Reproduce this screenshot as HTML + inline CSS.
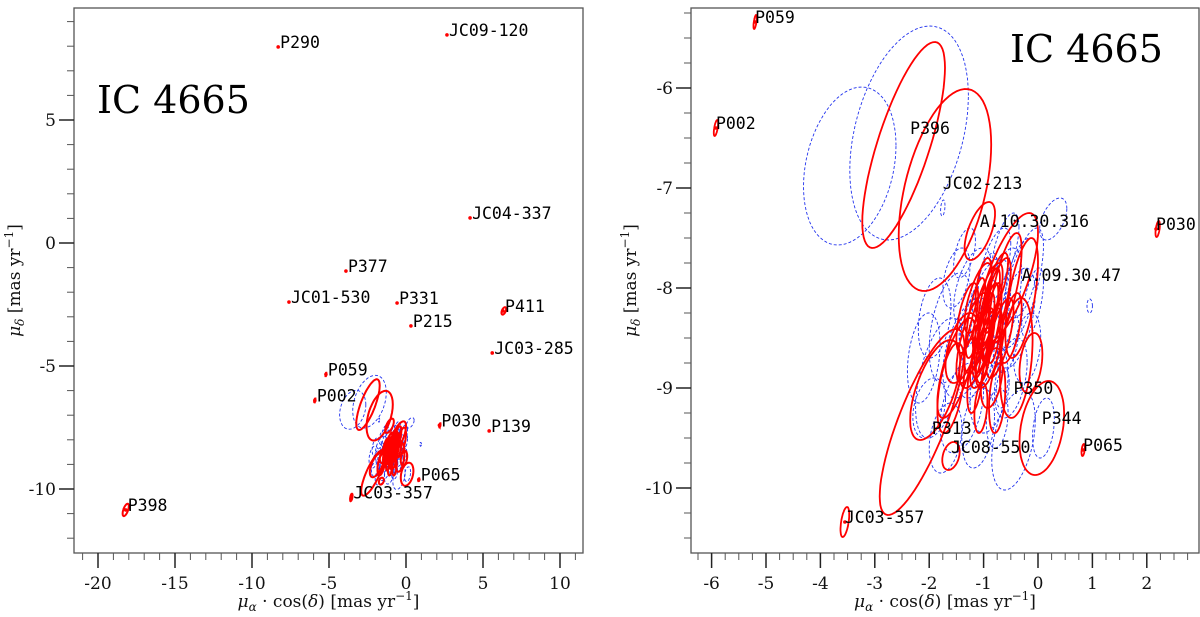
<!DOCTYPE html>
<html><head><meta charset="utf-8"><style>
body{margin:0;background:#fff;}
svg{display:block;}
.tick{font-family:"DejaVu Serif","Liberation Serif",serif;font-size:17px;fill:#111;}
.lab{font-family:"DejaVu Sans Mono","Liberation Mono",monospace;font-size:16.5px;fill:#000;}
.title{font-family:"DejaVu Serif","Liberation Serif",serif;font-size:38px;fill:#000;}
.axl{font-family:"DejaVu Serif","Liberation Serif",serif;font-size:17px;fill:#111;}
</style></head><body>
<svg id="fig" width="1200" height="617" viewBox="0 0 1200 617" xmlns="http://www.w3.org/2000/svg"></svg>
<script>
// ---- data (mas/yr) ----
const labelNames = ["P290","JC09-120","JC04-337","P377","JC01-530","P331","P215","P411","JC03-285","P059","P002","P030","P139","P065","JC03-357","P398"];
const labelPmra  = [-8.3, 2.66, 4.16, -3.9, -7.6, -0.58, 0.32, 6.3, 5.6, -5.2, -5.92, 2.17, 5.4, 0.83, -3.55, -18.2];
const labelPmdec = [7.97, 8.46, 1.02, -1.14, -2.4, -2.44, -3.37, -2.76, -4.47, -5.34, -6.4, -7.41, -7.64, -9.62, -10.34, -10.85];
const rightOnlyNames = ["P396","JC02-213","A.10.30.316","A.09.30.47","P350","P344","P313","JC08-550"];
const rightOnlyPmra  = [-2.35, -1.75, -1.07, -0.3, -0.45, 0.07, -1.95, -1.6];
const rightOnlyPmdec = [-6.45, -7.0, -7.38, -7.92, -9.05, -9.35, -9.45, -9.64];
// red ellipses: centre x, centre y, sx, sy, correlation
const redCx  = [-2.47,-1.71,-1.07,-0.55,-0.3,-2.13,-1.89,0.07,-0.13,-1.6,-3.55,-5.2,-5.92,2.2,0.83,-18.2,6.35,
  -1.0,-0.8,-1.2,-0.9,-1.1,-0.7,-1.3,-0.95,-1.05,-0.6,-1.4,-0.85,-1.15,-0.75,-1.0,-1.5,-0.5,-1.25,-0.9,-1.1,-0.4,-1.6,-0.75,-1.05,
  -0.95,-0.85,-1.05,-0.9,-1.0,-0.8,-1.15];
const redCy  = [-6.57,-7.02,-7.43,-7.9,-8.1,-9.34,-9.02,-9.4,-8.75,-9.68,-10.34,-5.34,-6.4,-7.41,-9.62,-10.85,-2.76,
  -8.3,-8.2,-8.5,-8.6,-8.1,-8.5,-8.3,-8.45,-8.7,-8.0,-8.6,-8.9,-8.9,-7.95,-8.0,-8.8,-8.4,-8.75,-8.25,-8.45,-8.7,-9.0,-9.1,-9.2,
  -8.4,-8.35,-8.55,-8.2,-8.65,-8.45,-8.3];
const redSx  = [0.76,0.85,0.28,0.55,0.3,0.78,0.46,0.41,0.21,0.16,0.08,0.03,0.04,0.04,0.03,0.2,0.15,
  0.35,0.3,0.3,0.25,0.25,0.25,0.2,0.15,0.2,0.3,0.3,0.2,0.15,0.2,0.15,0.35,0.2,0.2,0.1,0.1,0.3,0.25,0.15,0.12,
  0.22,0.18,0.16,0.2,0.14,0.12,0.18];
const redSy  = [1.03,1.01,0.29,0.65,0.6,0.93,0.5,0.47,0.3,0.14,0.15,0.07,0.08,0.08,0.06,0.25,0.15,
  0.55,0.5,0.45,0.4,0.35,0.4,0.35,0.25,0.3,0.55,0.35,0.3,0.35,0.3,0.3,0.5,0.35,0.25,0.2,0.2,0.6,0.45,0.35,0.25,
  0.45,0.4,0.35,0.4,0.3,0.3,0.4];
const redRho = [0.75,0.45,0.6,0.7,0.6,0.8,0.6,0.3,0.3,0.3,0.5,0.6,0.6,0.5,0.4,0.6,0.5,
  0.8,0.75,0.7,0.6,0.7,0.7,0.6,0.5,0.6,0.7,0.5,0.4,0.5,0.7,0.5,0.7,0.6,0.4,0.5,0.4,0.3,0.5,0.3,0.3,
  0.8,0.7,0.6,0.75,0.5,0.6,0.7];
// blue dashed ellipses
const blueCx  = [-3.46,-2.37,-1.0,-0.7,-1.3,-1.6,-0.4,-1.2,-0.8,-1.8,-0.9,-0.5,-1.4,-0.6,-1.9,-0.2,-1.1,-0.75,-1.5,-0.3,-2.1,-1.0,-0.85,-1.25,-0.55,-1.7,-0.45,-1.35,-0.1,-2.0,-0.95,0.28,-1.75,0.95,-0.65,0.1,-0.3];
const blueCy  = [-6.78,-6.45,-8.4,-8.2,-8.6,-8.4,-8.3,-8.0,-7.8,-8.9,-9.0,-8.9,-9.2,-7.6,-8.3,-8.6,-9.4,-9.3,-7.9,-7.9,-8.7,-8.7,-8.5,-8.35,-8.55,-9.5,-9.52,-7.65,-8.15,-9.2,-7.95,-7.31,-7.2,-8.18,-9.0,-9.4,-8.0];
const blueSx  = [0.85,1.09,0.5,0.4,0.45,0.4,0.35,0.35,0.3,0.45,0.35,0.3,0.4,0.25,0.3,0.25,0.3,0.2,0.25,0.3,0.3,0.2,0.15,0.2,0.2,0.3,0.4,0.2,0.2,0.3,0.2,0.25,0.04,0.05,0.12,0.2,0.4];
const blueSy  = [0.79,1.07,0.7,0.6,0.5,0.55,0.5,0.4,0.4,0.6,0.45,0.4,0.45,0.35,0.4,0.35,0.4,0.3,0.3,0.4,0.45,0.3,0.25,0.25,0.3,0.35,0.5,0.25,0.35,0.3,0.3,0.21,0.08,0.07,0.2,0.3,0.6];
const blueRho = [0.26,0.35,0.6,0.6,0.5,0.4,0.5,0.5,0.6,0.5,0.3,0.4,0.4,0.6,0.3,0.3,0.3,0.2,0.4,0.5,0.3,0.5,0.4,0.5,0.5,0.3,0.4,0.5,0.6,0.3,0.6,0.5,0.3,0.0,0.3,0.3,0.7];
// ticks
const leftXTicks = [-20,-15,-10,-5,0,5,10];
const leftYTicks = [5,0,-5,-10];
const rightXTicks = [-6,-5,-4,-3,-2,-1,0,1,2];
const rightYTicks = [-6,-7,-8,-9,-10];

const NS="http://www.w3.org/2000/svg";
const svg=document.getElementById('fig');
function mk(tag,attrs,parent){const e=document.createElementNS(NS,tag);for(const k in attrs)e.setAttribute(k,attrs[k]);(parent||svg).appendChild(e);return e;}

const panels=[
 {id:'left',L:74,R:583,T:8,B:553,x0:406,kx:15.4,y0:243,ky:24.6,xmin:-21.6,xmax:11.5,ymin:-12.6,ymax:9.5,xt:leftXTicks,yt:leftYTicks,minorX:1,minorY:1,title:[97,113],lw:2.0},
 {id:'right',L:691,R:1199,T:8,B:553,x0:1038,kx:54.4,y0:-512,ky:100,xmin:-6.35,xmax:2.95,ymin:-10.65,ymax:-5.2,xt:rightXTicks,yt:rightYTicks,minorX:0.25,minorY:0.25,title:[1010,62],lw:1.8}
];
panels.forEach(p=>{
 const X=v=>p.x0+v*p.kx, Y=v=>p.y0-v*p.ky;
 const g=mk('g',{});
 
 
 const cp=mk('clipPath',{id:'clip-'+p.id},g);
 mk('rect',{x:p.L,y:p.T,width:p.R-p.L,height:p.B-p.T},cp);
 const plot=mk('g',{'clip-path':'url(#clip-'+p.id+')'},g);
 
 
 function ell(cx,cy,sx,sy,rho,style,name){
   let d='';const r2=Math.sqrt(Math.max(0,1-rho*rho));
   for(let i=0;i<=72;i++){const t=i/72*2*Math.PI;
     const px=X(cx+sx*Math.cos(t)), py=Y(cy+sy*(rho*Math.cos(t)+r2*Math.sin(t)));
     d+=(i?'L':'M')+px.toFixed(1)+' '+py.toFixed(1);}
   const e=mk('path',Object.assign({d:d+'Z',fill:'none'},style),plot);
   
   
 }
 for(let i=0;i<blueCx.length;i++) ell(blueCx[i],blueCy[i],blueSx[i],blueSy[i],blueRho[i],{stroke:'#2233ee','stroke-width':0.9,'stroke-dasharray':'3 2'},'member-ellipse');
 for(let i=0;i<redCx.length;i++) ell(redCx[i],redCy[i],redSx[i],redSy[i],redRho[i],{stroke:'#ff0000','stroke-width':p.lw},'candidate-ellipse');
 for(let i=0;i<labelNames.length;i++){
   const c=mk('circle',{cx:X(labelPmra[i]),cy:Y(labelPmdec[i]),r:1.8,fill:'#ff0000'},plot);
   
   
 }
 const names=p.id==='left'?labelNames:labelNames.concat(rightOnlyNames);
 const ras=p.id==='left'?labelPmra:labelPmra.concat(rightOnlyPmra);
 const des=p.id==='left'?labelPmdec:labelPmdec.concat(rightOnlyPmdec);
 for(let i=0;i<names.length;i++){
   const tx=X(ras[i])+(p.id==='left'?2:0), ty=Y(des[i])+1;
   const t=mk('text',{x:tx,y:ty,class:'lab'},plot);t.textContent=names[i];
   
   
 }
 const fr=mk('rect',{x:p.L,y:p.T,width:p.R-p.L,height:p.B-p.T,fill:'none',stroke:'#555','stroke-width':1.3},g);
 
 
 for(let v=Math.ceil(p.xmin/p.minorX)*p.minorX;v<=p.xmax;v+=p.minorX){const x=X(v);mk('line',{x1:x,x2:x,y1:p.B,y2:p.B+7,stroke:'#555','stroke-width':1},g);}
 for(let v=Math.ceil(p.ymin/p.minorY)*p.minorY;v<=p.ymax;v+=p.minorY){const y=Y(v);mk('line',{x1:p.L,x2:p.L-7,y1:y,y2:y,stroke:'#555','stroke-width':1},g);}
 p.xt.forEach(v=>{const x=X(v);mk('line',{x1:x,x2:x,y1:p.B,y2:p.B+15,stroke:'#222','stroke-width':1.5},g);
   const t=mk('text',{x:x,y:p.B+36,class:'tick','text-anchor':'middle'},g);t.textContent=v;
   
   });
 p.yt.forEach(v=>{const y=Y(v);mk('line',{x1:p.L,x2:p.L-15,y1:y,y2:y,stroke:'#222','stroke-width':1.5},g);
   const t=mk('text',{x:p.L-18,y:y+6,class:'tick','text-anchor':'end'},g);t.textContent=v;
   
   });
 const tt=mk('text',{x:p.title[0],y:p.title[1],class:'title'},g);tt.textContent='IC 4665';
 
 
 const cx=(p.L+p.R)/2;
 const xl=mk('text',{x:cx,y:607,class:'axl','text-anchor':'middle'},g);
 xl.innerHTML='<tspan font-style="italic">μ</tspan><tspan font-style="italic" font-size="12" dy="4">α</tspan><tspan dy="-4"> · cos(</tspan><tspan font-style="italic">δ</tspan><tspan>)  [mas yr</tspan><tspan font-size="12" dy="-7">−1</tspan><tspan dy="7">]</tspan>';
 
 
 const lx=p.id==='left'?20:636, ly=(p.T+p.B)/2;
 const yl=mk('text',{x:lx,y:ly,class:'axl','text-anchor':'middle',transform:'rotate(-90 '+lx+' '+ly+')'},g);
 yl.innerHTML='<tspan font-style="italic">μ</tspan><tspan font-style="italic" font-size="12" dy="4">δ</tspan><tspan dy="-4">  [mas yr</tspan><tspan font-size="12" dy="-7">−1</tspan><tspan dy="7">]</tspan>';
 
 
});
</script>
</body></html>
